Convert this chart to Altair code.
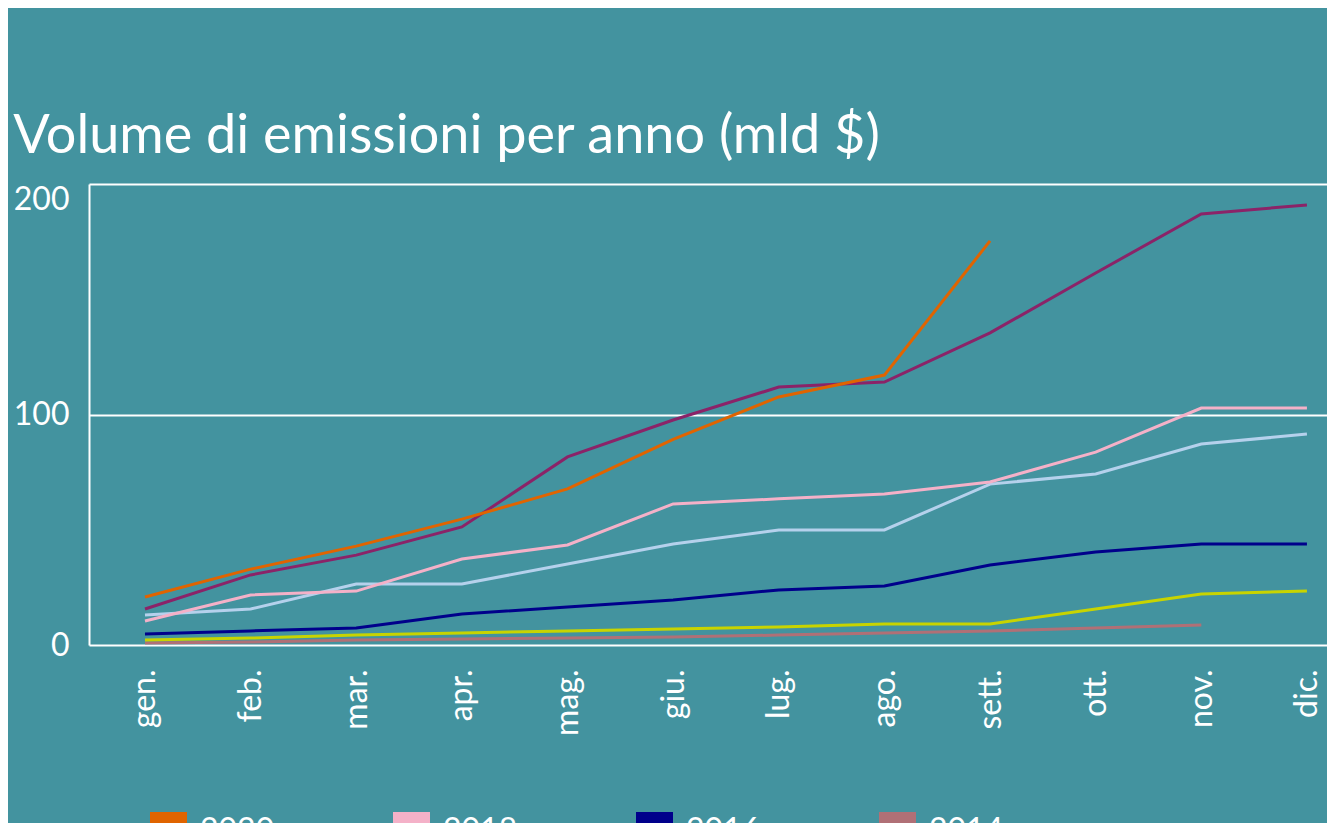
import altair as alt
import pandas as pd
import json

months = ["gen.", "feb.", "mar.", "apr.", "mag.", "giu.", "lug.", "ago.", "sett.", "ott.", "nov.", "dic."]

v2020 = [20.8, 32.9, 42.9, 54.6, 67.7, 89.2, 107.6, 117.1, 175.3]
v2019 = [15.6, 30.4, 39.0, 51.2, 81.6, 97.6, 111.9, 114.1, 135.4, 161.4, 187.0, 190.9]
v2018 = [10.4, 21.7, 23.4, 37.3, 43.4, 61.2, 63.4, 65.5, 70.7, 83.7, 102.8, 102.8]
v2017 = [13.0, 15.6, 26.5, 26.5, 35.1, 43.8, 49.9, 49.9, 69.8, 74.2, 87.2, 91.5]
v2016 = [4.8, 6.1, 7.4, 13.4, 16.5, 19.5, 23.9, 25.6, 34.7, 40.3, 43.8, 43.8]
v2015 = [2.2, 3.0, 4.3, 5.2, 6.1, 6.9, 7.8, 9.1, 9.1, 15.6, 22.1, 23.4]
v2014 = [0.9, 1.3, 2.2, 2.6, 3.0, 3.5, 4.3, 5.2, 6.1, 7.4, 8.7]

series = {
    "2014": v2014,
    "2015": v2015,
    "2016": v2016,
    "2017": v2017,
    "2018": v2018,
    "2019": v2019,
    "2020": v2020,
}

# legend order (row-major, 4 columns) and colours
legend_order = ["2020", "2018", "2016", "2014", "2019", "2017", "2015"]
legend_colors = ["#e06400", "#f4b1c8", "#00008b", "#b07076", "#8b2368", "#b5d1ec", "#c8d400"]

rows = []
for year, vals in series.items():
    for i, v in enumerate(vals):
        rows.append({"mese": i, "nome_mese": months[i], "anno": year, "valore": v})
df = pd.DataFrame(rows)

FONT = "Lato"
BG = "#43939f"

month_expr = json.dumps(months) + "[datum.value]"

x_enc = alt.X(
    "mese:Q",
    scale=alt.Scale(domain=[-0.53, 11.19], nice=False, zero=False),
    axis=alt.Axis(
        title=None,
        values=list(range(12)),
        labelExpr=month_expr,
        labelAngle=270,
        labelAlign="right",
        labelBaseline="middle",
        labelPadding=24,
        labelFontSize=32,
        labelFont=FONT,
        labelColor="white",
        labelFlush=False,
        labelOverlap=False,
        ticks=False,
        domain=False,
        grid=False,
    ),
)
y_enc = alt.Y(
    "valore:Q",
    scale=alt.Scale(domain=[0, 200], nice=False, zero=True),
    axis=alt.Axis(
        title=None,
        values=[0, 100, 200],
        grid=True,
        gridColor="white",
        gridWidth=2,
        gridOpacity=1,
        domain=True,
        domainColor="white",
        domainWidth=2,
        ticks=False,
        labelPadding=20,
        labelFontSize=32,
        labelFont=FONT,
        labelColor="white",
        labelBaseline={"condition": {"test": "datum.value == 200", "value": "top"}, "value": "middle"},
    ),
)

lines = alt.Chart(df).mark_line(strokeWidth=3).encode(
    x=x_enc,
    y=y_enc,
    stroke=alt.Stroke(
        "anno:N",
        scale=alt.Scale(domain=legend_order, range=legend_colors),
        legend=None,
    ),
    detail="anno:N",
)

squares = alt.Chart(df).mark_square(opacity=0, size=10).encode(
    x=alt.X("mese:Q"),
    y=alt.Y("valore:Q"),
    fill=alt.Fill(
        "anno:N",
        scale=alt.Scale(domain=legend_order, range=legend_colors),
        legend=alt.Legend(
            title=None,
            orient="none",
            legendX=61,
            legendY=628,
            direction="horizontal",
            columns=4,
            symbolType="square",
            symbolSize=1369,
            symbolStrokeWidth=0,
            symbolOpacity=1,
            labelFontSize=32,
            labelFont=FONT,
            labelColor="white",
            labelOffset=13,
            labelLimit=300,
            columnPadding=118,
            rowPadding=20,
            padding=0,
        ),
    ),
)

chart = (
    alt.layer(squares, lines)
    .properties(
        width=1238,
        height=461,
        padding={"left": 5, "top": 102, "right": 0, "bottom": 0},
        title=alt.TitleParams(
            "Volume di emissioni per anno (mld $)",
            anchor="start",
            frame="bounds",
            fontSize=54,
            font=FONT,
            fontWeight="normal",
            color="white",
            offset=19,
        ),
    )
    .configure(background=BG)
    .configure_view(stroke=None)
)

chart.save("out.html", embed_options={"renderer": "svg", "actions": False})
